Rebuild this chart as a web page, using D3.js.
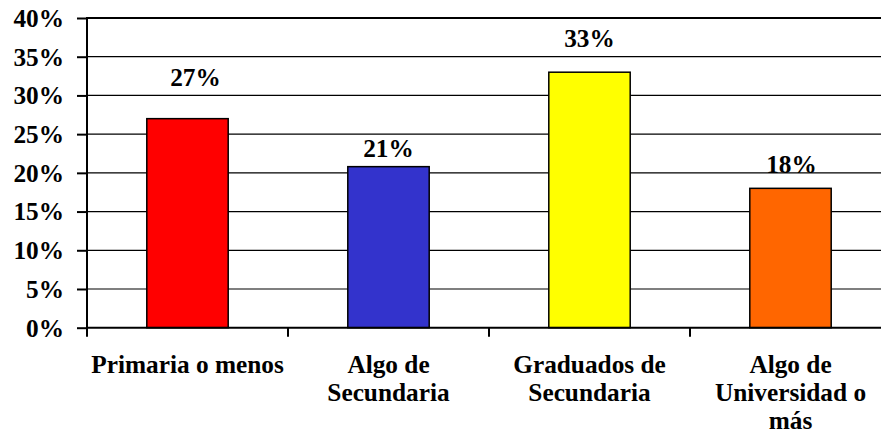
<!DOCTYPE html>
<html>
<head>
<meta charset="utf-8">
<script src="https://cdn.jsdelivr.net/npm/d3@7"></script>
<style>
  body { margin: 0; background: #fff; }
  text { font-family: "Liberation Serif", "Times New Roman", serif; font-weight: bold; fill: #000; }
</style>
</head>
<body>
<div id="viz"></div>
<script>
// data
var categories = ["Primaria o menos", "Algo de Secundaria", "Graduados de Secundaria", "Algo de Universidad o más"];
var categoryLines = [["Primaria o menos"], ["Algo de", "Secundaria"], ["Graduados de", "Secundaria"], ["Algo de", "Universidad o", "más"]];
var values = [0.27, 0.208, 0.33, 0.18];
var colors = ["#ff0000", "#3333cc", "#ffff00", "#ff6600"];
var yTicks = [0, 0.05, 0.10, 0.15, 0.20, 0.25, 0.30, 0.35, 0.40];

var width = 881,
    height = 436,
    plotLeft = 87,
    plotRight = 891,
    plotTop = 18,
    plotBottom = 327.7,
    fontSize = 25.3;

// label nudges, px (labels were hand placed in the original)
var labelLift = [33, 10, 25, 15];
var labelShift = [8, 0, 0, 1];

var svg = d3.select("#viz")
  .append("svg")
    .attr("width", width)
    .attr("height", height);

var x = d3.scaleBand()
  .domain(categories)
  .range([plotLeft, plotRight])
  .padding(0);

var y = d3.scaleLinear()
  .domain([0, 0.4])
  .range([plotBottom, plotTop]);

var fmt = d3.format(".0%");

// grid lines
svg.append("g")
  .selectAll("line")
  .data(yTicks.slice(1))
  .enter()
  .append("line")
    .attr("x1", plotLeft)
    .attr("x2", plotRight)
    .attr("y1", function(d) { return y(d); })
    .attr("y2", function(d) { return y(d); })
    .attr("stroke", "#000")
    .attr("stroke-width", function(d) { return d === 0.4 ? 2 : 1.2; });

// y axis
var yAxis = svg.append("g")
  .attr("transform", "translate(" + plotLeft + ",0)")
  .call(d3.axisLeft(y).tickValues(yTicks).tickFormat(fmt).tickSize(10).tickPadding(13));
yAxis.select(".domain").remove();
yAxis.selectAll(".tick line").attr("stroke", "#000").attr("stroke-width", 2);
yAxis.selectAll(".tick text")
  .attr("font-size", fontSize)
  .attr("dy", "0.33em")
  .style("font-family", "Liberation Serif")
  .style("font-weight", "bold");

svg.append("line")
  .attr("x1", plotLeft).attr("x2", plotLeft)
  .attr("y1", plotTop - 1).attr("y2", plotBottom + 9)
  .attr("stroke", "#000").attr("stroke-width", 2);

// bars
var bw = x.bandwidth() * 0.405;
svg.append("g")
  .selectAll("rect")
  .data(values)
  .enter()
  .append("rect")
    .attr("x", function(d, i) { return x(categories[i]) + x.bandwidth() / 2 - bw / 2; })
    .attr("y", function(d) { return y(d); })
    .attr("width", bw)
    .attr("height", function(d) { return y(0) - y(d); })
    .attr("fill", function(d, i) { return colors[i]; })
    .attr("stroke", "#000")
    .attr("stroke-width", 1.5);

// value labels
svg.append("g")
  .selectAll("text")
  .data(values)
  .enter()
  .append("text")
    .attr("x", function(d, i) { return x(categories[i]) + x.bandwidth() / 2 + labelShift[i]; })
    .attr("y", function(d, i) { return y(d) - labelLift[i]; })
    .attr("text-anchor", "middle")
    .attr("font-size", fontSize)
    .text(function(d) { return fmt(d); });

// x axis
svg.append("line")
  .attr("x1", plotLeft - 1).attr("x2", plotRight)
  .attr("y1", plotBottom).attr("y2", plotBottom)
  .attr("stroke", "#000").attr("stroke-width", 2);

svg.append("g")
  .selectAll("line")
  .data(categories.slice(1))
  .enter()
  .append("line")
    .attr("x1", function(d) { return x(d); })
    .attr("x2", function(d) { return x(d); })
    .attr("y1", plotBottom)
    .attr("y2", plotBottom + 9)
    .attr("stroke", "#000")
    .attr("stroke-width", 2);

var cat = svg.append("g")
  .selectAll("text")
  .data(categories)
  .enter()
  .append("text")
    .attr("text-anchor", "middle")
    .attr("font-size", fontSize);

cat.each(function(d, i) {
  var t = d3.select(this);
  categoryLines[i].forEach(function(line, j) {
    t.append("tspan")
      .attr("x", x(d) + x.bandwidth() / 2)
      .attr("y", 373.3 + j * 27.8)
      .text(line);
  });
});
</script>
</body>
</html>
